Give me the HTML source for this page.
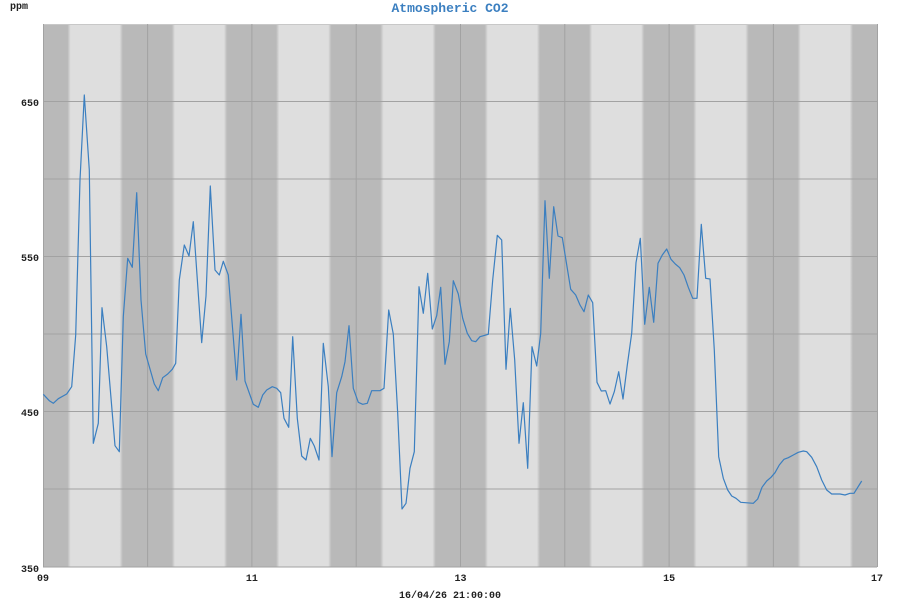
<!DOCTYPE html>
<html><head><meta charset="utf-8"><style>
html,body{margin:0;padding:0;background:#fff;width:900px;height:600px;overflow:hidden}
</style></head><body>
<svg width="900" height="600" xmlns="http://www.w3.org/2000/svg" font-family="Liberation Mono, monospace">
<defs>
<linearGradient id="hr" x1="0" x2="1" y1="0" y2="0">
<stop offset="0" stop-color="#b9b9b9"/>
<stop offset="0.235" stop-color="#b9b9b9"/>
<stop offset="0.265" stop-color="#dedede"/>
<stop offset="0.735" stop-color="#dedede"/>
<stop offset="0.765" stop-color="#b9b9b9"/>
<stop offset="1" stop-color="#b9b9b9"/>
</linearGradient>
<pattern id="bands" x="43" y="0" width="104.3" height="600" patternUnits="userSpaceOnUse">
<rect width="104.3" height="600" fill="url(#hr)"/>
</pattern>
</defs>
<rect x="43" y="24" width="834" height="543" fill="url(#bands)"/>
<g stroke="#a2a2a2" stroke-width="1">
<line x1="43" x2="877" y1="24.5" y2="24.5" stroke="#c8c8c8"/>
<line x1="43" x2="877" y1="101.5" y2="101.5"/>
<line x1="43" x2="877" y1="179" y2="179"/>
<line x1="43" x2="877" y1="256.5" y2="256.5"/>
<line x1="43" x2="877" y1="334" y2="334"/>
<line x1="43" x2="877" y1="411.5" y2="411.5"/>
<line x1="43" x2="877" y1="489" y2="489"/>
<line x1="43" x2="877" y1="567" y2="567"/>
<line x1="43.5" x2="43.5" y1="24" y2="567"/>
<line x1="147.6" x2="147.6" y1="24" y2="567"/>
<line x1="251.9" x2="251.9" y1="24" y2="567"/>
<line x1="356.2" x2="356.2" y1="24" y2="567"/>
<line x1="460.5" x2="460.5" y1="24" y2="567"/>
<line x1="564.8" x2="564.8" y1="24" y2="567"/>
<line x1="669.1" x2="669.1" y1="24" y2="567"/>
<line x1="773.4" x2="773.4" y1="24" y2="567"/>
<line x1="877.5" x2="877.5" y1="24" y2="567"/>
</g>
<polyline fill="none" stroke="#3b7fc0" stroke-width="1.2" stroke-linejoin="round" points="
43.3,394.3 49.3,400.7 53.3,403.3 58.3,398.7 66.7,394 71.7,386.7 75.7,335 80,180 84.3,95 89.3,170 93.3,443.3 98.3,423.3 102,307.7 106.7,346.7 115,445.7 119.3,451.7 123.3,316.7 127.7,258.3 132.3,267.3 136.7,192.7 141,300 145.7,354 154.3,384 158.3,390.7 162.7,377.7 167.7,374 172.3,369.3 175.7,363.3 179.3,280 184.3,245 189,256 193.3,221.7 201.7,342.7 206,296 210.3,186 215,270 219.3,275 223.3,261.3 228.3,275 236.7,380 241,314.3 245,381 253.3,404.3 258.3,407.3 262.7,395 266.7,390 272.3,386.7 276.7,388.3 280.7,392.7 284,418.3 288.7,427.3 292.7,336.7 297.3,418.3 301.7,456 306,460 310.3,438.3 314.3,446 319,460 323.3,343.3 328.3,386.7 332,456.7 336.7,392.7 341.7,376.7 345,361.7 349,325.7 353.3,388.3 358.3,402.3 362.7,404.3 367.3,403.3 371.7,390.7 380,390.7 384,388.3 388.7,310 393.3,334 397.7,413.3 402,509 406,503.3 410,468.3 414.3,451.7 419,286.7 423.3,313.3 427.7,273.3 432.3,329 436.7,315.7 440.7,287.3 445,364.3 449.3,341.7 453.3,280.7 458.3,294 462.7,318.3 467.3,333.3 471.7,340.7 475.7,341.7 480,336.7 488.3,334.3 492.7,280 497.3,235.3 501.7,240 506,369.3 510.3,308.3 514.7,360 519,443.3 523.3,402.7 527.7,468.3 532,346.7 536.7,366 540.7,333.3 545,200.7 549.3,278.3 553.7,206.7 558,236 562.3,237.7 570.7,289.3 575.7,295 580,305 584,311.7 588.3,295 592.7,302.7 597,382.3 601.3,391 605.7,390.7 610,404 614.3,391.7 618.7,371.7 623,399 627.3,365 631.7,333.3 636,262.7 640.3,238.3 644.7,324.3 649.3,287.3 653.7,322.3 658,263.3 662.3,255 666.7,249 671,259.3 675.3,264 679.7,267.7 684,275 688.3,287.3 692.7,298.3 697,298.3 701.3,224.3 705.7,278.3 710,279 714.3,350 718.7,456.7 723.3,478.3 727.7,490 731.7,496 736,498.3 740.7,502.3 753.3,503.3 757.7,499 762,487.3 766.7,481 771,477.3 775,472.7 779.3,465 784,459.3 788.3,457.7 793.3,455 798.3,452.3 803.3,451 806.7,451.7 811.7,457.3 816.7,466.7 821.7,480 826.7,490 831.7,494 840,494 845,495 850,493.3 854,493.3 861.7,481"/>
<text x="450" y="12" text-anchor="middle" font-size="13" font-weight="bold" fill="#3b7fc0">Atmospheric CO2</text>
<g font-size="10" font-weight="bold" fill="#222">
<text x="10" y="9">ppm</text>
<text x="39" y="106" text-anchor="end">650</text>
<text x="39" y="261" text-anchor="end">550</text>
<text x="39" y="416" text-anchor="end">450</text>
<text x="39" y="572" text-anchor="end">350</text>
<text x="43" y="581" text-anchor="middle">09</text>
<text x="251.9" y="581" text-anchor="middle">11</text>
<text x="460.5" y="581" text-anchor="middle">13</text>
<text x="669.1" y="581" text-anchor="middle">15</text>
<text x="877" y="581" text-anchor="middle">17</text>
<text x="450" y="598" text-anchor="middle">16/04/26 21:00:00</text>
</g>
</svg>
</body></html>
